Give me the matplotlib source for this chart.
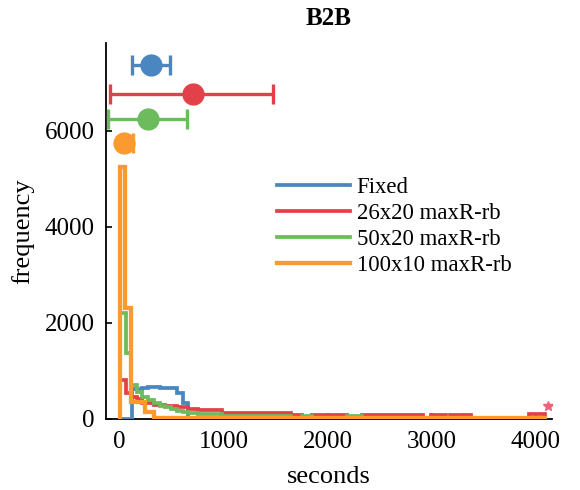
import matplotlib
matplotlib.use("Agg")
import matplotlib.pyplot as plt
import numpy as np

plt.rcParams['font.family'] = ['Liberation Serif', 'DejaVu Serif']

series_labels = ["Fixed", "26x20 maxR-rb", "50x20 maxR-rb", "100x10 maxR-rb"]
colors = ["#4a86bf", "#e3414a", "#6cbb5d", "#fb9a2f"]

blue_edges = [0, 120, 165, 220, 275, 330, 385, 440, 495, 550, 605, 660]
blue_counts = [0, 620, 610, 640, 650, 650, 640, 640, 640, 540, 330]

red_edges = [0, 60, 110, 165, 220, 330, 440, 550, 660, 750, 985, 1650, 1750, 1850,
             2180, 2330, 2910, 2995, 3140, 3170, 3290, 3320, 3380, 3930, 4090]
red_counts = [810, 540, 440, 400, 330, 290, 270, 240, 200, 170, 120, 70, 0, 70,
              0, 70, 0, 70, 0, 70, 0, 70, 0, 90]

green_edges = [0, 60, 110, 165, 220, 275, 330, 385, 440, 495, 550, 605, 660, 750,
               985, 1650, 1750, 1850, 2180, 2330, 4090]
green_counts = [2200, 1370, 700, 560, 450, 380, 330, 270, 230, 190, 160, 140, 120, 100,
                60, 0, 55, 0, 55, 0]

orange_edges = [0, 55, 110, 240, 330, 4090]
orange_counts = [5250, 2300, 350, 140, 10]

err_y = [7365, 6770, 6250, 5750]
err_mean = [300, 705, 275, 40]
err_lo = [120, -90, -115, 15]
err_hi = [485, 1470, 650, 125]

outlier_x = [4120]
outlier_y = [260]

x_ticks = [0, 1000, 2000, 3000, 4000]
y_ticks = [0, 2000, 4000, 6000]

fig = plt.figure(figsize=(5.8, 4.9), dpi=100)
x0, xr = 105.5, 551.6
y0, yt = 418.5, 43
ax = fig.add_axes([x0/580, 1-y0/490, (xr-x0)/580, (y0-yt)/490])

hists = [(blue_edges, blue_counts), (red_edges, red_counts),
         (green_edges, green_counts), (orange_edges, orange_counts)]
lws = [2.7, 2.7, 2.7, 3.1]
for (e, c), col, lab, lw in zip(hists, colors, series_labels, lws):
    ax.stairs(c, e, baseline=0, color=col, lw=lw, label=lab, zorder=2)

for y, m, lo, hi, col in zip(err_y, err_mean, err_lo, err_hi, colors):
    ax.errorbar([m], [y], xerr=[[m - lo], [hi - m]], fmt='o', color=col,
                ms=15, elinewidth=2.4, capsize=7.5, capthick=2.4, zorder=3)

ax.plot(outlier_x, outlier_y, '*', color="#f0607a", ms=7, zorder=3)

ax.set_xlim(-135, 4150)
ax.set_ylim(0, 7823)
ax.set_xticks(x_ticks)
ax.set_yticks(y_ticks)
ax.spines['top'].set_visible(False)
ax.spines['right'].set_visible(False)
for s in ['left', 'bottom']:
    ax.spines[s].set_linewidth(1.3)
    ax.spines[s].set_zorder(1)
ax.set_axisbelow(True)
ax.tick_params(direction='in', length=4, width=1.2, labelsize=18)
ax.tick_params(axis='x', pad=9)
ax.tick_params(axis='y', pad=8)

ax.set_xlabel("seconds", fontsize=19, labelpad=9)
ax.set_ylabel("frequency", fontsize=19, labelpad=7)
ax.set_title("B2B", fontsize=18, fontweight='bold', pad=13)

leg = ax.legend(loc='upper left', bbox_to_anchor=(277/580, 1-177/490),
                bbox_transform=fig.transFigure, frameon=False, fontsize=16.4,
                handlelength=3.2, handletextpad=0.3, labelspacing=0.225,
                borderpad=0, borderaxespad=0)

fig.savefig("out.png", dpi=100)
